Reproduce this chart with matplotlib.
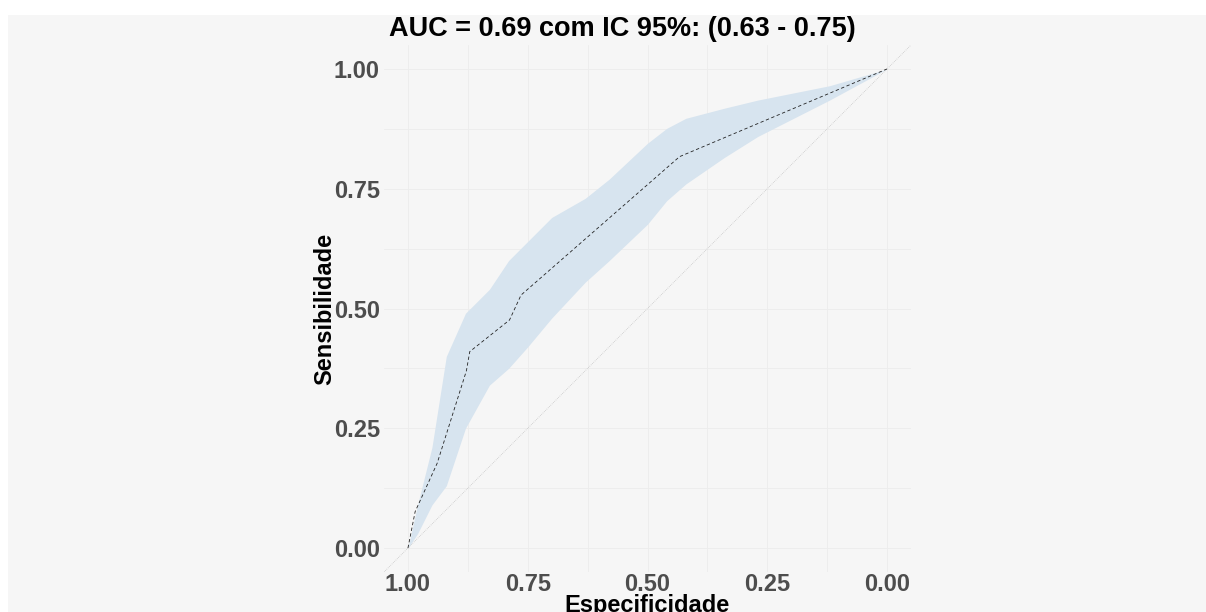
import numpy as np
import matplotlib
matplotlib.use('Agg')
import matplotlib.pyplot as plt
from matplotlib.patches import Rectangle

# ROC curve points (specificity, sensitivity)
roc_spec = [1.00, 0.985, 0.939, 0.878, 0.871, 0.788, 0.764, 0.433, 0.00]
roc_sens = [0.00, 0.076, 0.177, 0.370, 0.410, 0.476, 0.528, 0.817, 1.00]

# 95% CI band for sensitivity
ci_spec = [1.00, 0.98, 0.95, 0.92, 0.88, 0.83, 0.79, 0.75, 0.70, 0.63, 0.58,
           0.50, 0.46, 0.42, 0.34, 0.27, 0.12, 0.00]
ci_upper = [0.00, 0.09, 0.21, 0.40, 0.49, 0.54, 0.60, 0.64, 0.69, 0.73, 0.77,
            0.845, 0.876, 0.897, 0.918, 0.935, 0.965, 1.00]
ci_lower = [0.00, 0.03, 0.09, 0.13, 0.25, 0.34, 0.375, 0.42, 0.48, 0.555, 0.60,
            0.676, 0.725, 0.76, 0.815, 0.859, 0.935, 1.00]

ticks = [0.00, 0.25, 0.50, 0.75, 1.00]
tick_labels = ['0.00', '0.25', '0.50', '0.75', '1.00']
title = 'AUC = 0.69 com IC 95%: (0.63 - 0.75)'

plt.rcParams['font.family'] = ['Liberation Sans', 'DejaVu Sans']

W, H = 1206, 612
fig = plt.figure(figsize=(W / 100, H / 100), dpi=100, facecolor='white')

# gray plot background (leaves a thin white strip at top/left)
fig.patches.append(Rectangle((8 / W, 0), 1 - 8 / W, 1 - 15 / H, transform=fig.transFigure,
                             facecolor='#f6f6f6', edgecolor='none', zorder=-10))

ax = fig.add_axes([384 / W, 1 - 572 / H, 527 / W, 527 / H])
ax.set_facecolor('#f6f6f6')

# grid lines
for v in np.arange(0, 1.01, 0.125):
    ax.axhline(v, color='#ececec', lw=0.6, zorder=1)
    ax.axvline(v, color='#ececec', lw=0.6, zorder=1)

# diagonal reference line
ax.plot([1.05, -0.05], [-0.05, 1.05], color='#b8b8b8', lw=0.5, ls=':', zorder=2)

# CI band and ROC curve
ax.fill_between(ci_spec, ci_lower, ci_upper, color='#d7e4ef', lw=0, zorder=3)
ax.plot(roc_spec, roc_sens, color='#222222', lw=0.6, ls=(0, (4, 3)), zorder=4)

ax.set_xlim(1.05, -0.05)
ax.set_ylim(-0.05, 1.05)
for s in ax.spines.values():
    s.set_visible(False)

ax.set_xticks(ticks)
ax.set_xticklabels(tick_labels)
ax.set_yticks(ticks)
ax.set_yticklabels(tick_labels)
ax.tick_params(length=0, labelsize=17, labelcolor='#4d4d4d', pad=3)
ax.tick_params(axis='x', pad=1)
for lab in ax.get_xticklabels() + ax.get_yticklabels():
    lab.set_fontweight('bold')

ax.set_xlabel('Especificidade', fontsize=17, fontweight='bold', color='black', labelpad=-2)
ax.set_ylabel('Sensibilidade', fontsize=17, fontweight='bold', color='black', labelpad=-2)

fig.text(622 / W, 1 - 29 / H, title, ha='center', va='center',
         fontsize=19.5, fontweight='bold', color='black')

fig.savefig('out.png', dpi=100, facecolor='white')
